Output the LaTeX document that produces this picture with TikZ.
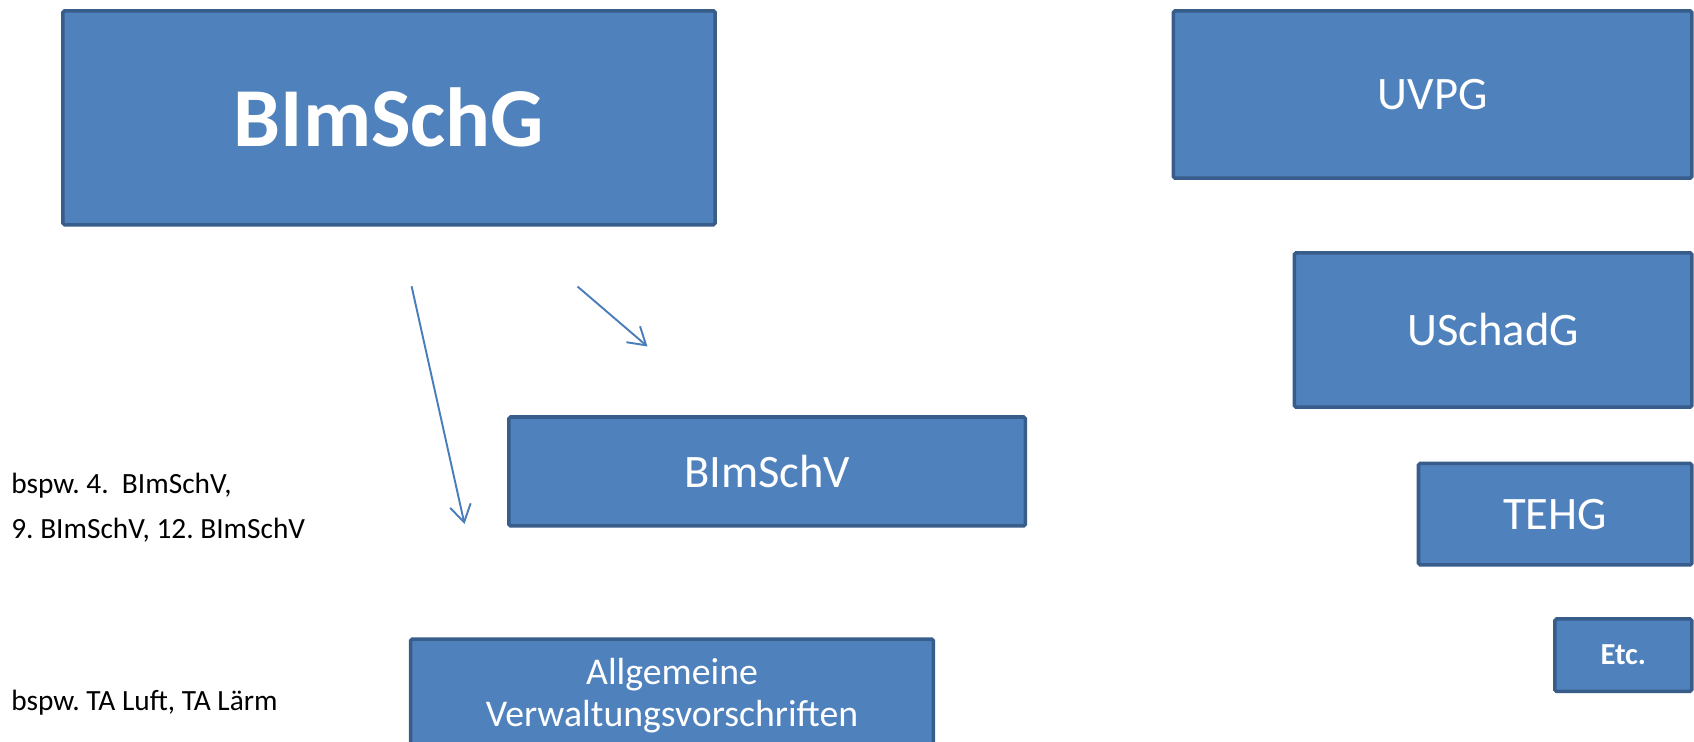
\documentclass[tikz,border=0pt]{standalone}
\usepackage{fontspec}
\setmainfont{Carlito}
\frenchspacing
\usetikzlibrary{arrows.meta,positioning}
\definecolor{lawfill}{HTML}{4F81BD}
\definecolor{lawline}{HTML}{385D8A}
\definecolor{link}{HTML}{4A7EBB}
\tikzset{
  law/.style={draw=lawline,line width=2pt,rounded corners=1pt,fill=lawfill,text=white,align=center,inner sep=0pt,font=\fontsize{26.5}{30}\selectfont},
  lawbig/.style={law,font=\fontsize{47.7}{52}\selectfont\bfseries},
  lawetc/.style={law,font=\fontsize{17.4}{20}\selectfont\bfseries},
  lawtext/.style={align=center,inner sep=0pt,text=white,font=\fontsize{21.5}{23.8}\selectfont},
  note/.style={align=left,inner sep=0pt,text=black,font=\fontsize{16.7}{25.9}\selectfont},
  ar/.style={-{Straight Barb[length=3.4mm,width=4.2mm]},draw=link,line width=1.1pt},
}
\begin{document}
\begin{tikzpicture}[x=0.02cm,y=-0.02cm]
  \useasboundingbox (0,0) rectangle (1694,742);
  \clip (0,0) rectangle (1694,742);
  % Gesetze
  \node[lawbig,minimum width=13.05cm,minimum height=4.28cm] (bimschg) at (389,117.8) {BImSchG};
  \node[law,minimum width=10.37cm,minimum height=3.35cm] (uvpg) at (1432.6,94.5) {UVPG};
  \node[law,minimum width=7.95cm,minimum height=3.09cm] (uschadg) at (1493.1,330) {USchadG};
  \node[law,minimum width=5.47cm,minimum height=2.03cm] (tehg) at (1555.2,514.2) {TEHG};
  \node[lawetc,minimum width=2.74cm,minimum height=1.45cm] (etc) at (1623.3,655.2) {Etc.};
  % Verordnungen und Vorschriften
  \node[law,minimum width=10.33cm,minimum height=2.18cm] (bimschv) at (767.1,471.5) {BImSchV};
  \node[law,minimum width=10.46cm,minimum height=3cm,anchor=north] (avv) at (672,637.4) {};
  \node[lawtext,anchor=north] (avvtext) at ([yshift=-0.41cm]avv.north) {Allgemeine\\Verwaltungsvorschriften};
  % Beispiele
  \node[note,anchor=base west] (bsp1) at (11,539) {bspw. 4.~~BImSchV,\\9. BImSchV, 12. BImSchV};
  \node[note,anchor=base west] (bsp2) at (11,711) {bspw. TA Luft, TA Lärm};
  % Pfeile
  \coordinate (a1s) at (411.6,286.3); \coordinate (a1e) at (464.5,524);
  \coordinate (a2s) at (577.5,286.5); \coordinate (a2e) at (647.5,346.5);
  \draw[ar] (a1s) -- (a1e);
  \draw[ar] (a2s) -- (a2e);
\end{tikzpicture}
\end{document}
